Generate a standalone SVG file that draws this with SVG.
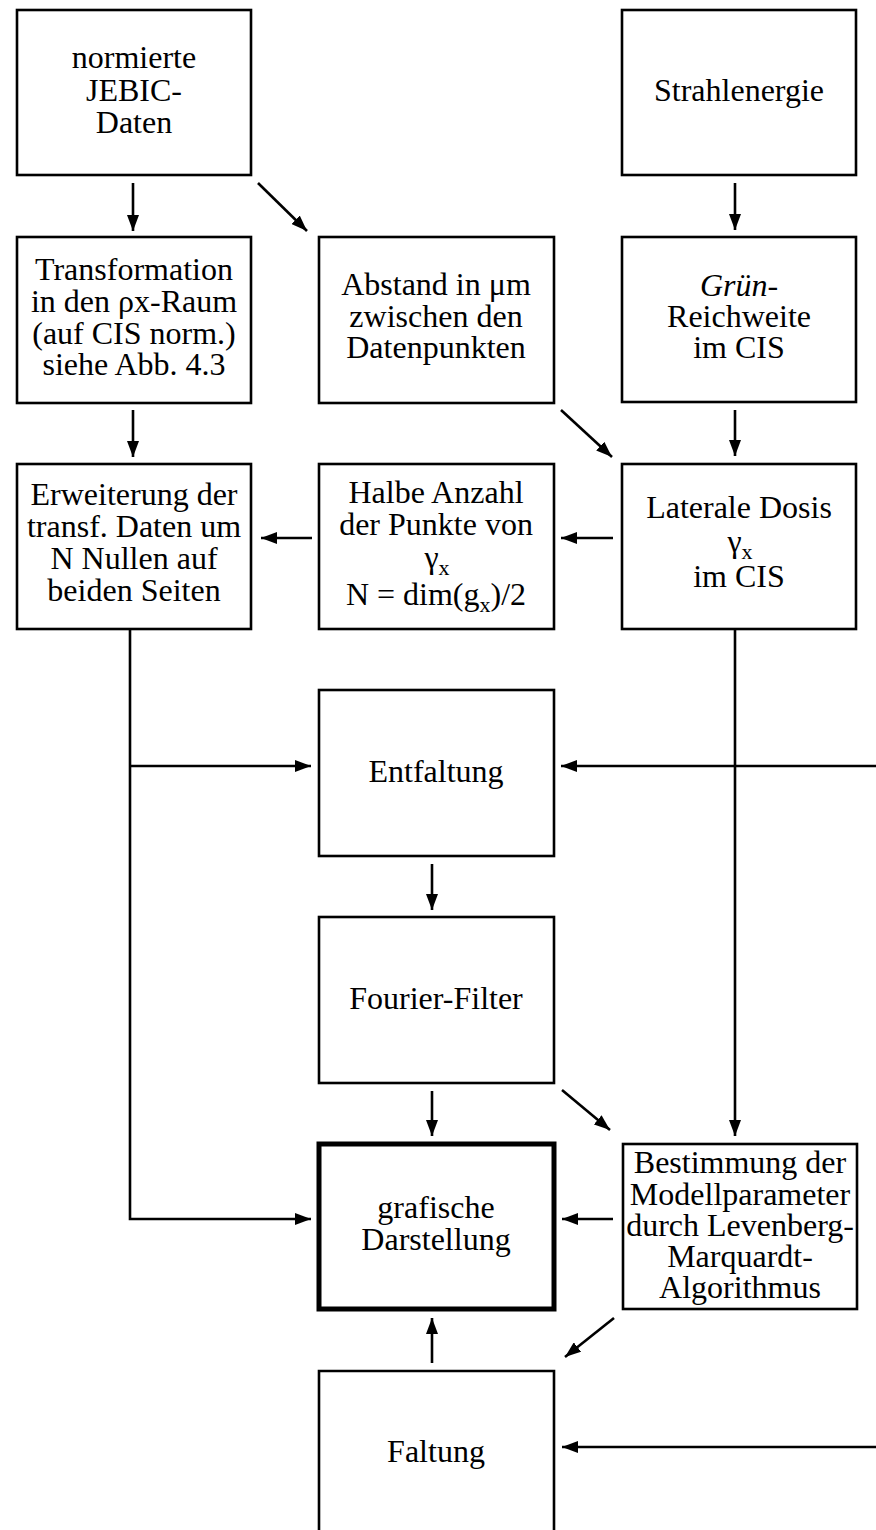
<svg xmlns="http://www.w3.org/2000/svg" width="876" height="1530" viewBox="0 0 876 1530">
<defs>
<marker id="ah" viewBox="0 0 16 12" refX="16" refY="6" markerWidth="16" markerHeight="12" markerUnits="userSpaceOnUse" orient="auto">
<path d="M0,0 L16,6 L0,12 z" fill="#000"/>
</marker>
<style>
.box{fill:#fff;stroke:#000;stroke-width:2.6}
.thick{fill:#fff;stroke:#000;stroke-width:5}
.t{font-family:"Liberation Serif","Times New Roman",serif;font-size:32px;fill:#000;text-anchor:middle}
.sub{font-size:22px}
.c{fill:none;stroke:#000;stroke-width:2.6}
.a{marker-end:url(#ah)}
</style>
</defs>
<rect width="876" height="1530" fill="#fff"/>

<g id="n-jebic">
<rect class="box" x="17" y="10" width="234" height="165"/>
<text class="t" x="134" y="68">normierte</text>
<text class="t" x="134" y="101">JEBIC-</text>
<text class="t" x="134" y="133">Daten</text>
</g>
<g id="n-strahl">
<rect class="box" x="622" y="10" width="234" height="165"/>
<text class="t" x="739" y="101">Strahlenergie</text>
</g>
<g id="n-trans">
<rect class="box" x="17" y="237" width="234" height="166"/>
<text class="t" x="134" y="280">Transformation</text>
<text class="t" x="134" y="312">in den ρx-Raum</text>
<text class="t" x="134" y="344">(auf CIS norm.)</text>
<text class="t" x="134" y="375">siehe Abb. 4.3</text>
</g>
<g id="n-abstand">
<rect class="box" x="319" y="237" width="235" height="166"/>
<text class="t" x="436" y="295">Abstand in μm</text>
<text class="t" x="436" y="327">zwischen den</text>
<text class="t" x="436" y="358">Datenpunkten</text>
</g>
<g id="n-gruen">
<rect class="box" x="622" y="237" width="234" height="165"/>
<text class="t" x="739" y="296"><tspan font-style="italic">Grün</tspan>-</text>
<text class="t" x="739" y="327">Reichweite</text>
<text class="t" x="739" y="358">im CIS</text>
</g>
<g id="n-erw">
<rect class="box" x="17" y="464" width="234" height="165"/>
<text class="t" x="134" y="505">Erweiterung der</text>
<text class="t" x="134" y="537">transf. Daten um</text>
<text class="t" x="134" y="569">N Nullen auf</text>
<text class="t" x="134" y="601">beiden Seiten</text>
</g>
<g id="n-halbe">
<rect class="box" x="319" y="464" width="235" height="165"/>
<text class="t" x="436" y="503">Halbe Anzahl</text>
<text class="t" x="436" y="535">der Punkte von</text>
<text class="t" x="437" y="568">γ<tspan class="sub" dy="7">x</tspan></text>
<text class="t" x="436" y="605">N = dim(g<tspan class="sub" dy="7">x</tspan><tspan dy="-7">)/2</tspan></text>
</g>
<g id="n-lateral">
<rect class="box" x="622" y="464" width="234" height="165"/>
<text class="t" x="739" y="518">Laterale Dosis</text>
<text class="t" x="740" y="552">γ<tspan class="sub" dy="7">x</tspan></text>
<text class="t" x="739" y="587">im CIS</text>
</g>
<g id="n-entf">
<rect class="box" x="319" y="690" width="235" height="166"/>
<text class="t" x="436" y="782">Entfaltung</text>
</g>
<g id="n-fourier">
<rect class="box" x="319" y="917" width="235" height="166"/>
<text class="t" x="436" y="1009">Fourier-Filter</text>
</g>
<g id="n-grafisch">
<rect class="thick" x="319" y="1144" width="235" height="165"/>
<text class="t" x="436" y="1218">grafische</text>
<text class="t" x="436" y="1250">Darstellung</text>
</g>
<g id="n-bestimmung">
<rect class="box" x="623" y="1144" width="234" height="165"/>
<text class="t" x="740" y="1173">Bestimmung der</text>
<text class="t" x="740" y="1205">Modellparameter</text>
<text class="t" x="740" y="1236">durch Levenberg-</text>
<text class="t" x="740" y="1267">Marquardt-</text>
<text class="t" x="740" y="1298">Algorithmus</text>
</g>
<g id="n-faltung">
<path class="box" d="M319,1535 V1371 H554 V1535"/>
<text class="t" x="436" y="1462">Faltung</text>
</g>

<g id="connectors">
<path class="c a" d="M133,183 V231"/>
<path class="c a" d="M258,183 L307,231"/>
<path class="c a" d="M735,183 V230"/>
<path class="c a" d="M133,410 V457"/>
<path class="c a" d="M561,410 L612,457"/>
<path class="c a" d="M735,410 V456"/>
<path class="c a" d="M613,538 H561"/>
<path class="c a" d="M312,538 H261"/>
<path class="c a" d="M130,630 V1219 H311"/>
<path class="c a" d="M130,766 H311"/>
<path class="c a" d="M876,766 H561"/>
<path class="c a" d="M735,630 V1136"/>
<path class="c a" d="M432,864 V910"/>
<path class="c a" d="M432,1091 V1136"/>
<path class="c a" d="M562,1090 L610,1130"/>
<path class="c a" d="M613,1219 H562"/>
<path class="c a" d="M614,1318 L565,1357"/>
<path class="c a" d="M432,1363 V1318"/>
<path class="c a" d="M876,1447 H562"/>
</g>
</svg>
